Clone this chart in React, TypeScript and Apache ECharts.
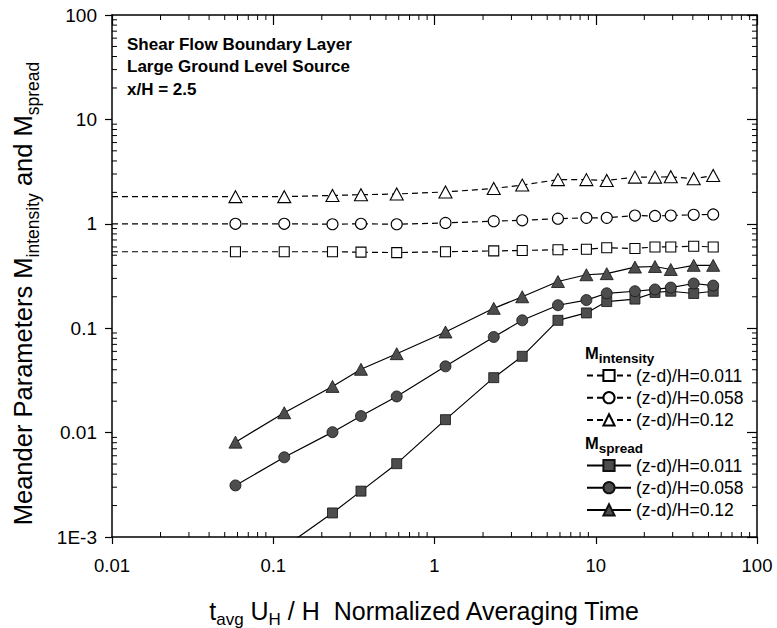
import React, { useEffect, useRef } from 'react';
import * as echarts from 'echarts';

const FONT = '"Liberation Sans", Arial, Helvetica, sans-serif';

const X_MIN = 0.01;
const X_MAX = 100;
const Y_MIN = 0.001;
const Y_MAX = 100;
const xTickLabels = ['0.01', '0.1', '1', '10', '100'];
const yTickLabels = ['1E-3', '0.01', '0.1', '1', '10', '100'];
const xDecades = [0.01, 0.1, 1, 10];
const yDecades = [0.001, 0.01, 0.1, 1, 10];
const minorSteps = [2, 3, 4, 5, 6, 7, 8, 9];

// normalized averaging time t_avg U_H / H
const averagingTime = [0.0583, 0.117, 0.233, 0.35, 0.583, 1.17, 2.33, 3.5, 5.83, 8.75, 11.7, 17.5, 23.3, 29.2, 40.5, 53.5];

// M_intensity
const intensity011 = [0.54, 0.54, 0.54, 0.535, 0.53, 0.54, 0.55, 0.555, 0.565, 0.57, 0.59, 0.58, 0.6, 0.6, 0.61, 0.6];
const intensity058 = [1.0, 1.0, 0.99, 1.0, 0.99, 1.02, 1.06, 1.08, 1.12, 1.14, 1.14, 1.2, 1.19, 1.2, 1.22, 1.23];
const intensity12 = [1.82, 1.82, 1.87, 1.9, 1.93, 2.02, 2.18, 2.35, 2.65, 2.65, 2.6, 2.8, 2.8, 2.82, 2.7, 2.9];

// M_spread
const spread011 = [0.0003, 0.0008, 0.0017, 0.00275, 0.00504, 0.0133, 0.0336, 0.0538, 0.119, 0.14, 0.18, 0.19, 0.22, 0.226, 0.215, 0.226];
const spread058 = [0.00312, 0.0058, 0.0101, 0.0144, 0.0222, 0.0431, 0.0824, 0.119, 0.166, 0.186, 0.216, 0.226, 0.235, 0.245, 0.268, 0.256];
const spread12 = [0.0081, 0.0155, 0.0277, 0.0404, 0.057, 0.092, 0.155, 0.2, 0.28, 0.325, 0.333, 0.385, 0.39, 0.365, 0.4, 0.4];

const intensityNames = ['(z-d)/H=0.011', '(z-d)/H=0.058', '(z-d)/H=0.12'];
// trailing space keeps the names distinct for the legends; trimmed when shown
const spreadNames = ['(z-d)/H=0.011 ', '(z-d)/H=0.058 ', '(z-d)/H=0.12 '];

const titleLines = ['Shear Flow Boundary Layer', 'Large Ground Level Source', 'x/H = 2.5'];

let measureCtx: CanvasRenderingContext2D | null = null;
function textWidth(text: string, size: number, weight = 'normal'): number {
  if (!measureCtx) measureCtx = document.createElement('canvas').getContext('2d');
  if (!measureCtx) return text.length * size * 0.55;
  measureCtx.font = `${weight} ${size}px ${FONT}`;
  return measureCtx.measureText(text).width;
}

type Piece = [string, boolean];
function buildPieces(pieces: Piece[], main: number, sub: number, subOffset: number, weight = 'normal') {
  const widths = pieces.map(([t, s]) => textWidth(t, s ? sub : main, weight));
  const total = widths.reduce((a, b) => a + b, 0);
  let x = 0;
  const children = pieces.map(([t, s], i) => {
    const el = {
      type: 'text',
      x,
      y: s ? subOffset : 0,
      style: {
        text: t,
        fill: '#000',
        fontSize: s ? sub : main,
        fontFamily: FONT,
        fontWeight: weight,
        align: 'left',
        verticalAlign: 'middle',
      },
    };
    x += widths[i];
    return el;
  });
  return { children, total };
}

function logLabel(labels: string[], firstExp: number) {
  return (v: number) => {
    const idx = Math.round(Math.log10(v)) - firstExp;
    return labels[idx] ?? '';
  };
}

export default function App() {
  const ref = useRef<HTMLDivElement>(null);

  useEffect(() => {
    if (!ref.current) return;
    const chart = echarts.init(ref.current, undefined, { renderer: 'svg' });

    const intensitySeries = (name: string, values: number[], symbol: string, size: any) => ({
      type: 'line',
      name,
      xAxisIndex: 0,
      yAxisIndex: 0,
      data: [
        { value: [X_MIN, values[0]], symbol: 'none' },
        ...averagingTime.map((t, i) => [t, values[i]]),
      ],
      symbol,
      symbolSize: size,
      itemStyle: { color: '#fff', borderColor: '#000', borderWidth: 1.1 },
      lineStyle: { color: '#000', width: 1.2, type: [6, 4] },
      emphasis: { disabled: true },
      z: 3,
    });

    const spreadSeries = (name: string, values: number[], symbol: string, size: any) => ({
      type: 'line',
      name,
      xAxisIndex: 0,
      yAxisIndex: 0,
      data: averagingTime.map((t, i) => [t, values[i]]),
      symbol,
      symbolSize: size,
      clip: true,
      itemStyle: { color: '#4d4d4d', borderColor: '#111', borderWidth: 0.8 },
      lineStyle: { color: '#000', width: 1.2, type: 'solid' },
      emphasis: { disabled: true },
      z: 4,
    });

    const tickStyle = { stroke: '#000', lineWidth: 1 };
    const xMinor = xDecades.flatMap((d) => minorSteps.map((k) => d * k));
    const yMinor = yDecades.flatMap((d) => minorSteps.map((k) => d * k));

    const xMinorSeries = {
      type: 'custom',
      silent: true,
      z: 10,
      xAxisIndex: 0,
      yAxisIndex: 0,
      data: xMinor.map((v) => [v, Y_MIN]),
      encode: { x: 0, y: 1 },
      renderItem: (_p: any, api: any) => {
        const v = api.value(0);
        const b = api.coord([v, Y_MIN]);
        const t = api.coord([v, Y_MAX]);
        return {
          type: 'group',
          children: [
            { type: 'line', shape: { x1: b[0], y1: b[1], x2: b[0], y2: b[1] - 5 }, style: tickStyle },
            { type: 'line', shape: { x1: t[0], y1: t[1], x2: t[0], y2: t[1] + 5 }, style: tickStyle },
          ],
        };
      },
    };
    const yMinorSeries = {
      type: 'custom',
      silent: true,
      z: 10,
      xAxisIndex: 0,
      yAxisIndex: 0,
      data: yMinor.map((v) => [X_MIN, v]),
      encode: { x: 0, y: 1 },
      renderItem: (_p: any, api: any) => {
        const v = api.value(1);
        const l = api.coord([X_MIN, v]);
        const r = api.coord([X_MAX, v]);
        return {
          type: 'group',
          children: [
            { type: 'line', shape: { x1: l[0], y1: l[1], x2: l[0] + 5, y2: l[1] }, style: tickStyle },
            { type: 'line', shape: { x1: r[0], y1: r[1], x2: r[0] - 5, y2: r[1] }, style: tickStyle },
          ],
        };
      },
    };

    const axisLine = { show: true, lineStyle: { color: '#000', width: 1.5 } };

    const xAxisBase = { type: 'log', logBase: 10, min: X_MIN, max: X_MAX, splitLine: { show: false } };
    const yAxisBase = { type: 'log', logBase: 10, min: Y_MIN, max: Y_MAX, splitLine: { show: false } };

    // axis titles
    const xTitle = buildPieces(
      [
        ['t', false],
        ['avg', true],
        [' U', false],
        ['H', true],
        [' / H  Normalized Averaging Time', false],
      ],
      25,
      17,
      8.5,
    );
    const yTitle = buildPieces(
      [
        ['Meander Parameters M', false],
        ['intensity', true],
        [' and M', false],
        ['spread', true],
      ],
      25.5,
      17.5,
      9.5,
    );
    const hdrI = buildPieces([['M', false], ['intensity', true]], 16.5, 13.5, 6, 'bold');
    const hdrS = buildPieces([['M', false], ['spread', true]], 16.5, 13.5, 6, 'bold');

    const graphic: any[] = [
      {
        type: 'group',
        x: 425 - xTitle.total / 2,
        y: 611.3,
        children: xTitle.children,
      },
      {
        type: 'group',
        x: 23.3,
        y: 293.5 + yTitle.total / 2,
        rotation: Math.PI / 2,
        children: yTitle.children,
      },
      { type: 'group', x: 585, y: 352.5, children: hdrI.children },
      { type: 'group', x: 585, y: 442.5, children: hdrS.children },
      ...titleLines.map((t, i) => ({
        type: 'text',
        x: 127,
        y: 44.1 + i * 22.5,
        style: {
          text: t,
          fill: '#000',
          fontSize: 17,
          fontWeight: 'bold',
          fontFamily: FONT,
          align: 'left',
          verticalAlign: 'middle',
        },
      })),
    ];

    const legendBase = {
      orient: 'vertical',
      left: 586,
      itemWidth: 44,
      itemHeight: 14,
      itemGap: 4.2,
      padding: 0,
      selectedMode: false,
      formatter: (n: string) => n.trim(),
      textStyle: { fontSize: 17.5, fontFamily: FONT, color: '#000' },
    };

    const option: any = {
      animation: false,
      backgroundColor: '#fff',
      grid: { left: 112, right: 20, top: 15, bottom: 91, containLabel: false },
      xAxis: [
        {
          ...xAxisBase,
          position: 'bottom',
          axisLine,
          axisTick: { show: true, inside: false, length: 7, lineStyle: { color: '#000', width: 1.2 } },
          axisLabel: {
            fontSize: 18.5,
            color: '#000',
            fontFamily: FONT,
            margin: 19,
            formatter: logLabel(xTickLabels, -2),
          },
        },
        {
          ...xAxisBase,
          position: 'top',
          axisLine,
          axisTick: { show: true, inside: true, length: 10, lineStyle: { color: '#000', width: 1.2 } },
          axisLabel: { show: false },
        },
      ],
      yAxis: [
        {
          ...yAxisBase,
          position: 'left',
          axisLine,
          axisTick: { show: true, inside: false, length: 7, lineStyle: { color: '#000', width: 1.2 } },
          axisLabel: {
            fontSize: 19,
            color: '#000',
            fontFamily: FONT,
            margin: 15,
            formatter: logLabel(yTickLabels, -3),
          },
        },
        {
          ...yAxisBase,
          position: 'right',
          axisLine,
          axisTick: { show: true, inside: true, length: 10, lineStyle: { color: '#000', width: 1.2 } },
          axisLabel: { show: false },
        },
      ],
      legend: [
        { ...legendBase, top: 366.5, data: intensityNames },
        { ...legendBase, top: 456.5, data: spreadNames },
      ],
      graphic,
      series: [
        intensitySeries(intensityNames[0], intensity011, 'rect', 10),
        intensitySeries(intensityNames[1], intensity058, 'circle', 11),
        intensitySeries(intensityNames[2], intensity12, 'triangle', [13, 12]),
        spreadSeries(spreadNames[0], spread011, 'rect', 10),
        spreadSeries(spreadNames[1], spread058, 'circle', 11),
        spreadSeries(spreadNames[2], spread12, 'triangle', [13, 12]),
        xMinorSeries,
        yMinorSeries,
      ],
    };

    chart.setOption(option);
    return () => chart.dispose();
  }, []);

  return (
    <div
      ref={ref}
      style={{ position: 'fixed', left: 0, top: 0, width: 777, height: 628, background: '#fff' }}
    />
  );
}
